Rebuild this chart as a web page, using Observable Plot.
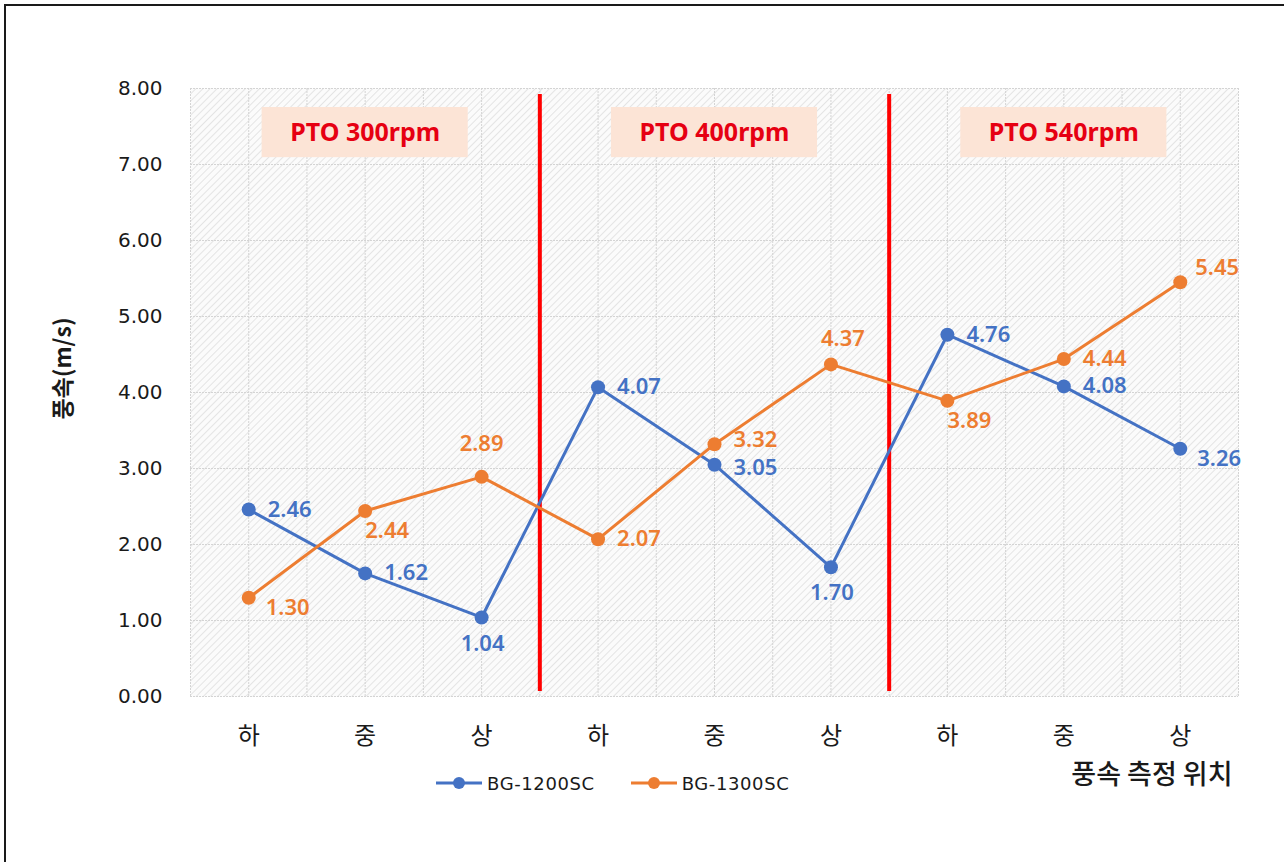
<!DOCTYPE html>
<html>
<head>
<meta charset="utf-8">
<script src="https://cdn.jsdelivr.net/npm/d3@7"></script>
<script src="https://cdn.jsdelivr.net/npm/@observablehq/plot@0.6"></script>
<style>
  body { margin: 0; background: #fff; }
  #wrap { position: relative; width: 1284px; height: 862px; overflow: hidden; background: #fff; }
  #border { position: absolute; left: 4px; top: 4px; right: -10px; bottom: -10px;
            border-top: 2px solid #1a1a1a; border-left: 2px solid #1a1a1a; }
  #chart { position: absolute; left: 0; top: 0; }
  #legend { position: absolute; left: 436px; top: 771px; height: 24px; display: flex; align-items: center;
            font-family: "DejaVu Sans", sans-serif; font-size: 18px; color: #1a1a1a; letter-spacing: 0.6px; }
  #legend .item { display: flex; align-items: center; margin-right: 36px; }
  #legend svg { margin-right: 5px; }
</style>
</head>
<body>
<div id="wrap">
  <div id="border"></div>
  <div id="chart"></div>
  <div id="legend"></div>
</div>
<script>
// Measurement positions along the sprayer (하 / 중 / 상), repeated for each PTO speed
const positions = ["하", "중", "상", "하", "중", "상", "하", "중", "상"];
const ptoGroups = ["PTO 300rpm", "PTO 400rpm", "PTO 540rpm"];
const seriesNames = ["BG-1200SC", "BG-1300SC"];
const seriesColors = ["#4472c4", "#ed7d31"];

// Wind speed (m/s) at each position
const bg1200 = [2.46, 1.62, 1.04, 4.07, 3.05, 1.70, 4.76, 4.08, 3.26];
const bg1300 = [1.30, 2.44, 2.89, 2.07, 3.32, 4.37, 3.89, 4.44, 5.45];

// Where each value label sits relative to its point
const bg1200Place = ["r", "r", "b", "r", "rd", "b", "r", "r", "rb"];
const bg1300Place = ["rb", "br", "t", "r", "ru", "tr", "br", "r", "rt"];

const yTicks = [0, 1, 2, 3, 4, 5, 6, 7, 8];

const rows = [
  ...bg1200.map((v, i) => ({i, value: v, series: seriesNames[0], place: bg1200Place[i]})),
  ...bg1300.map((v, i) => ({i, value: v, series: seriesNames[1], place: bg1300Place[i]}))
];

const perGroup = positions.length / ptoGroups.length;
const groups = ptoGroups.map((label, g) => ({label, center: g * perGroup + (perGroup - 1) / 2}));
const boundaries = d3.range(1, ptoGroups.length).map(g => g * perGroup - 0.5);
const halfSteps = d3.range(-0.5, positions.length - 0.5 + 0.01, 0.5);

// Label placements: text anchor and pixel offsets
const placements = {
  r:  {textAnchor: "start",  dx: 19, dy: 0},
  ru: {textAnchor: "start",  dx: 19, dy: -4},
  rd: {textAnchor: "start",  dx: 19, dy: 3},
  rb: {textAnchor: "start",  dx: 17, dy: 10},
  rt: {textAnchor: "start",  dx: 15, dy: -14},
  br: {textAnchor: "middle", dx: 22, dy: 20},
  b:  {textAnchor: "middle", dx: 1,  dy: 26},
  t:  {textAnchor: "middle", dx: 0,  dy: -33},
  tr: {textAnchor: "middle", dx: 12, dy: -25}
};

const labelFont = {fontFamily: "'Noto Sans', sans-serif", fontSize: 22, fontWeight: 600};

const labelMarks = Object.entries(placements).map(([key, p]) =>
  Plot.text(rows.filter(d => d.place === key), {
    x: "i", y: "value", text: d => d.value.toFixed(2),
    fill: "series", ...p, ...labelFont
  })
);

const chart = Plot.plot({
  width: 1284,
  height: 862,
  marginLeft: 190,
  marginRight: 46,
  marginTop: 88,
  marginBottom: 166,
  style: {fontFamily: "'DejaVu Sans', sans-serif", color: "#1a1a1a", background: "transparent"},
  x: {domain: [-0.5, positions.length - 0.5]},
  y: {domain: [0, 8]},
  color: {domain: seriesNames, range: seriesColors},
  marks: [
    Plot.frame({fill: "url(#hatch)", stroke: null}),
    Plot.gridX(halfSteps, {stroke: "#d4d4d4", strokeOpacity: 1, strokeWidth: 1, strokeDasharray: "2,1"}),
    Plot.gridY(yTicks, {stroke: "#d4d4d4", strokeOpacity: 1, strokeWidth: 1, strokeDasharray: "2,1"}),
    Plot.axisY(yTicks, {tickSize: 0, tickPadding: 28, tickFormat: d3.format(".2f"), fontSize: 20, label: null,
      letterSpacing: 1.5}),
    Plot.axisX(positions.map((_, i) => i), {tickSize: 0, tickPadding: 30, tickFormat: i => positions[i], fontSize: 24, label: null,
      fontFamily: "'Noto Sans CJK KR', sans-serif"}),
    Plot.text(["풍속(m/s)"], {frameAnchor: "left", textAnchor: "middle", dx: -127, dy: -24, rotate: -90, fontSize: 23,
      fontWeight: 700, letterSpacing: 2, fontFamily: "'Noto Sans CJK KR', sans-serif", fill: "#1a1a1a"}),
    Plot.text(["풍속 측정 위치"], {frameAnchor: "bottom-right", dx: -6, dy: 87, textAnchor: "end", fontSize: 27,
      fontWeight: 500, letterSpacing: 9, fontFamily: "'Noto Sans CJK KR', sans-serif", fill: "#1a1a1a"}),
    Plot.rect(groups, {x1: d => d.center - 0.885, x2: d => d.center + 0.885, y1: 7.09, y2: 7.75, fill: "#fce4d6"}),
    Plot.text(groups, {x: "center", y: 7.42, text: "label", fill: "#e60012", fontSize: 25, fontWeight: 700,
      fontFamily: "'Noto Sans', sans-serif"}),
    Plot.ruleX(boundaries, {stroke: "#ff0000", strokeWidth: 4, insetTop: 6, insetBottom: 5}),
    Plot.line(rows, {x: "i", y: "value", z: "series", stroke: "series", strokeWidth: 3}),
    Plot.dot(rows, {x: "i", y: "value", fill: "series", r: 7, stroke: null}),
    ...labelMarks
  ]
});

// Diagonal hatch used as the plot-area background
const defs = d3.select(chart).insert("defs", ":first-child");
const pat = defs.append("pattern").attr("id", "hatch").attr("patternUnits", "userSpaceOnUse")
  .attr("width", 5).attr("height", 5).attr("patternTransform", "rotate(45)");
pat.append("rect").attr("width", 5).attr("height", 5).attr("fill", "#fbfbfb");
pat.append("line").attr("x1", 0).attr("y1", 0).attr("x2", 0).attr("y2", 5)
  .attr("stroke", "#dedede").attr("stroke-width", 1.6);

document.getElementById("chart").appendChild(chart);

// Series legend below the plot
const legend = d3.select("#legend");
seriesNames.forEach((name, k) => {
  const item = legend.append("div").attr("class", "item");
  const sw = item.append("svg").attr("width", 46).attr("height", 16);
  sw.append("line").attr("x1", 0).attr("x2", 46).attr("y1", 8).attr("y2", 8)
    .attr("stroke", seriesColors[k]).attr("stroke-width", 3);
  sw.append("circle").attr("cx", 23).attr("cy", 8).attr("r", 6).attr("fill", seriesColors[k]);
  item.append("span").text(name);
});
</script>
</body>
</html>
